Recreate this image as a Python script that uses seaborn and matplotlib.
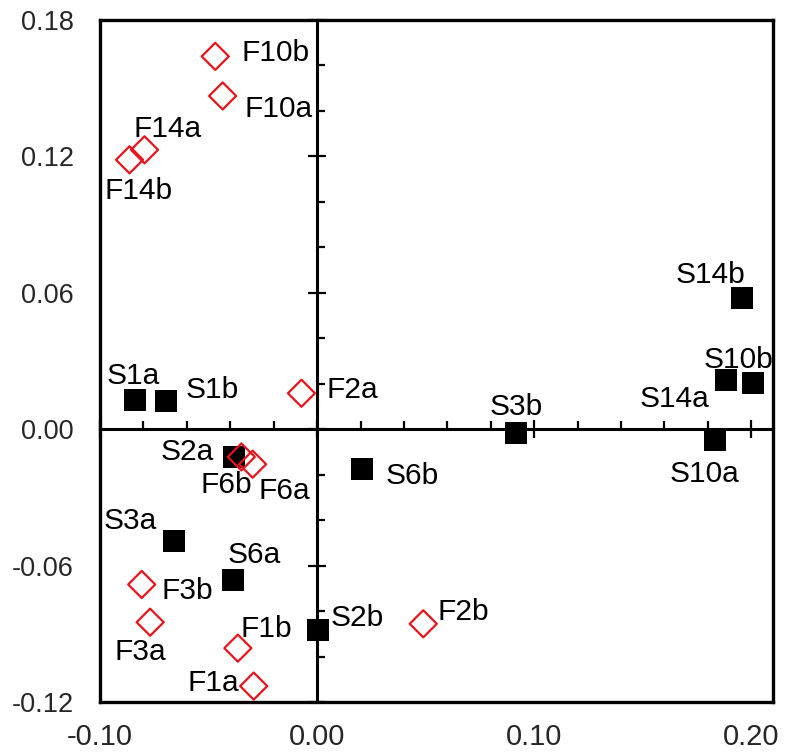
import pandas as pd
import matplotlib
matplotlib.use("Agg")
import matplotlib.pyplot as plt
from matplotlib.ticker import MultipleLocator, FormatStrFormatter
import seaborn as sns

# sample scores (S = black squares, F = red diamonds)
s_labels = ["S1a", "S1b", "S2a", "S2b", "S3a", "S3b", "S6a", "S6b",
            "S10a", "S10b", "S14a", "S14b"]
s_x = [-0.0838, -0.0694, -0.0384, 0.0003, -0.0661, 0.0916, -0.0389, 0.0208,
       0.1835, 0.2007, 0.1885, 0.1957]
s_y = [0.0129, 0.0126, -0.0122, -0.0885, -0.0490, -0.0018, -0.0663, -0.0173,
       -0.0047, 0.0205, 0.0215, 0.0578]

f_labels = ["F1a", "F1b", "F2a", "F2b", "F3a", "F3b", "F6a", "F6b",
            "F10a", "F10b", "F14a", "F14b"]
f_x = [-0.0292, -0.0365, -0.0072, 0.0489, -0.0769, -0.0808, -0.0297, -0.0349,
       -0.0435, -0.0469, -0.0795, -0.0864]
f_y = [-0.1130, -0.0963, 0.0158, -0.0856, -0.0849, -0.0683, -0.0154, -0.0122,
       0.1466, 0.1640, 0.1229, 0.1185]

x_ticks = [-0.10, 0.00, 0.10, 0.20]
y_ticks = [-0.12, -0.06, 0.00, 0.06, 0.12, 0.18]

# label placement: (dx px, dy px up, alignment)
label_pos = {
    "F10b": (26, 6, "left"), "F10a": (22, -10, "left"),
    "F14a": (23, 24, "center"), "F14b": (9, -28, "center"),
    "F2a": (25, 6, "left"), "F6b": (-15, -25, "center"),
    "F6a": (6, -24, "left"), "S2a": (-20, 8, "right"),
    "S1a": (-2, 27, "center"), "S1b": (19, 14, "left"),
    "S6b": (23, -4, "left"), "S3a": (-17, 23, "right"),
    "S6a": (-5, 28, "left"), "F3b": (20, -4, "left"),
    "F3a": (-10, -27, "center"), "F1b": (3, 22, "left"),
    "F1a": (-15, 6, "right"), "S2b": (13, 15, "left"),
    "F2b": (14, 15, "left"), "S3b": (0, 29, "center"),
    "S10a": (-11, -31, "center"), "S14a": (-17, -16, "right"),
    "S10b": (-14, 26, "center"), "S14b": (-31, 26, "center"),
}

sns.set_theme(style="white")
plt.rcParams["font.family"] = ["Liberation Sans", "DejaVu Sans"]
plt.rcParams["axes.unicode_minus"] = False

red = "#e8141c"
df_s = pd.DataFrame({"x": s_x, "y": s_y, "label": s_labels})
df_f = pd.DataFrame({"x": f_x, "y": f_y, "label": f_labels})

fig = plt.figure(figsize=(7.88, 7.56), dpi=100)
rect = [100 / 788, 1 - 702 / 756, 673 / 788, 682 / 756]

# outer box with the tick labels
ax = fig.add_axes(rect)
ax.set_xlim(-0.10, 0.21)
ax.set_ylim(-0.12, 0.18)
ax.set_xticks(x_ticks)
ax.set_yticks(y_ticks)
ax.xaxis.set_major_formatter(FormatStrFormatter("%.2f"))
ax.yaxis.set_major_formatter(FormatStrFormatter("%.2f"))
ax.tick_params(axis="both", length=0)
ax.tick_params(axis="y", labelsize=19.5, pad=19)
ax.tick_params(axis="x", labelsize=21, pad=15)
for sp in ax.spines.values():
    sp.set_visible(True)
    sp.set_linewidth(2.4)
    sp.set_color("black")

# axes crossing at zero, with ticks but no labels
ax2 = fig.add_axes(rect, frameon=True)
ax2.patch.set_visible(False)
ax2.set_xlim(-0.10, 0.21)
ax2.set_ylim(-0.12, 0.18)
for side in ["top", "right"]:
    ax2.spines[side].set_visible(False)
for side in ["left", "bottom"]:
    ax2.spines[side].set_position(("data", 0))
    ax2.spines[side].set_linewidth(2.2)
    ax2.spines[side].set_color("black")
ax2.xaxis.set_major_locator(MultipleLocator(0.10))
ax2.xaxis.set_minor_locator(MultipleLocator(0.02))
ax2.yaxis.set_major_locator(MultipleLocator(0.06))
ax2.yaxis.set_minor_locator(MultipleLocator(0.02))
ax2.tick_params(which="major", direction="inout", length=13, width=1.6,
                color="black", labelbottom=False, labelleft=False,
                bottom=True, left=True)
ax2.tick_params(which="minor", direction="in", length=5.5, width=1.6,
                color="black", bottom=True, left=True)

sns.scatterplot(data=df_s, x="x", y="y", marker="s", s=240, color="black",
                edgecolor="black", linewidth=0, ax=ax2, zorder=3, legend=False)
sns.scatterplot(data=df_f, x="x", y="y", marker="D", s=190, color=red,
                edgecolor=red, linewidth=1.6, ax=ax2, zorder=4, legend=False)
ax2.collections[-1].set_facecolor("none")
ax2.set_xlabel("")
ax2.set_ylabel("")

px = 0.72  # points per pixel at 100 dpi
for df in (df_s, df_f):
    for _, r in df.iterrows():
        dx, dy, ha = label_pos[r["label"]]
        ax2.annotate(r["label"], (r["x"], r["y"]),
                     xytext=(dx * px, (dy - 11) * px),
                     textcoords="offset points", ha=ha, va="baseline",
                     fontsize=21.5, color="black", zorder=5)

fig.savefig("out.png", dpi=100)
